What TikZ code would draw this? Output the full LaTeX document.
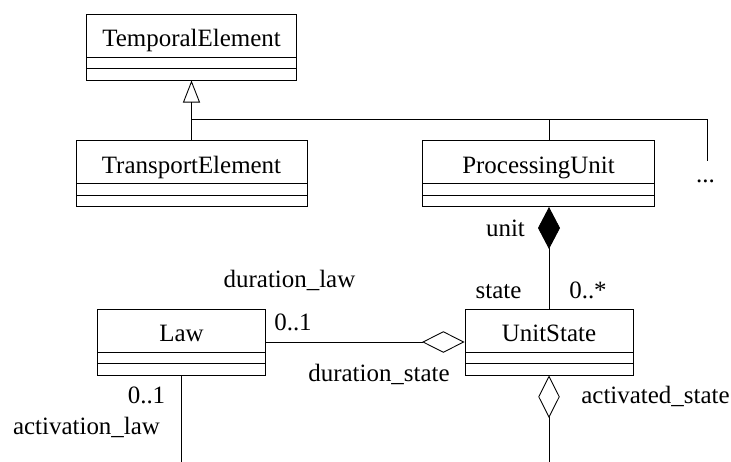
\documentclass[tikz,border=0pt]{standalone}
\usepackage{fontspec}
\setmainfont{Liberation Serif}
\usetikzlibrary{shapes.multipart,arrows.meta}

\begin{document}
\begin{tikzpicture}[x=0.02cm, y=-0.02cm,
  every node/.style={font=\fontsize{14.2}{17}\selectfont},
  clase/.style={draw, line width=0.5pt, rectangle split, rectangle split parts=3,
    inner ysep=0pt, rectangle split empty part height=0.21cm,
    rectangle split empty part depth=0pt, anchor=north,
    execute at begin node={\rule[-0.2cm]{0pt}{0.85cm}}},
  linea/.style={line width=0.5pt},
  herencia/.style={linea, -{Triangle[open, length=0.44cm, width=0.34cm]}},
  composicion/.style={linea, -{Diamond[length=0.84cm, width=0.44cm]}},
  agregacion/.style={linea, -{Diamond[open, length=0.85cm, width=0.43cm]}}]

\useasboundingbox (0,0) rectangle (731,461);

% Todo desplazado medio pixel para que las lineas caigan en la rejilla
\begin{scope}[shift={(0.5,0.5)}]
% Clases
\node[clase, minimum width=4.2cm] (temporal) at (191,13) {TemporalElement};
\node[clase, minimum width=4.62cm] (transporte) at (191,139.5) {TransportElement};
\node[clase, minimum width=4.64cm] (proceso) at (538,139.5) {ProcessingUnit};
\node[clase, minimum width=3.36cm] (ley) at (181,308) {Law};
\node[clase, minimum width=3.36cm] (estado) at (548.5,308) {UnitState};

% Puntos de paso y extremos libres
\coordinate (bus) at (191,119);
\coordinate (mas) at (706.5,160.5);
\coordinate (finley) at (181,461);
\coordinate (finestado) at (548.5,461);

% Herencia
\draw[herencia] (transporte.north) -- (temporal.south);
\draw[linea] (bus) -| (mas);
\draw[linea] (estado.north |- proceso.north) -- (estado.north |- bus);
\node[anchor=base] (puntos) at (705,182) {...};

% Composicion y agregaciones
\draw[composicion] (estado.north) -- (estado.north |- proceso.south);
\draw[agregacion] (ley.east) -- (estado.west);
\draw[agregacion] (finestado) -- (estado.south);
\draw[linea] (ley.south) -- (finley);

% Roles y multiplicidades
\node[anchor=base] (rolunit) at (505,236) {unit};
\node[anchor=base] (rolstate) at (498,298) {state};
\node[anchor=base] (multestado) at (587.5,298) {0..*};
\node[anchor=base] (rolduracion) at (289,287) {duration\_law};
\node[anchor=base] (multduracion) at (292.5,329.5) {0..1};
\node[anchor=base] (rolestadodur) at (378.5,381) {duration\_state};
\node[anchor=base] (multactiv) at (146,403) {0..1};
\node[anchor=base] (rolactiv) at (86,434) {activation\_law};
\node[anchor=base] (rolactivado) at (655,403) {activated\_state};
\end{scope}

\end{tikzpicture}
\end{document}
